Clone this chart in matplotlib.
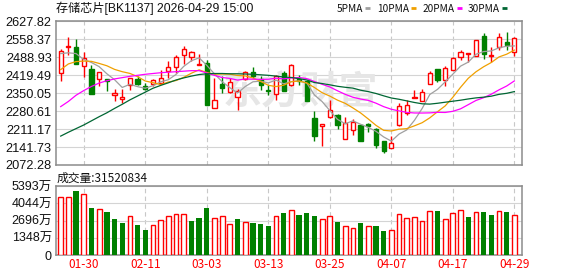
import numpy as np
import matplotlib
matplotlib.use('Agg')
import matplotlib.pyplot as plt
from matplotlib.lines import Line2D

plt.rcParams['font.family'] = ['Liberation Sans', 'Noto Sans CJK SC']

title = '存储芯片[BK1137] 2026-04-29 15:00'
volume_title = '成交量:31520834'

opens = [2427.9, 2527.3, 2528.5, 2456.2, 2443.4, 2404.8, 2404.8, 2344.1, 2326.3, 2382.7,
         2405.9, 2376.5, 2384.3, 2389.3, 2436.8, 2450.0, 2496.4, 2489.8, 2460.0, 2466.6,
         2292.6, 2386.6, 2353.4, 2334.0, 2405.9, 2431.8, 2404.8, 2363.4, 2347.9, 2427.9,
         2382.7, 2404.8, 2398.2, 2254.0, 2221.9, 2256.7, 2266.7, 2174.0, 2206.4, 2228.1,
         2230.8, 2213.0, 2166.2, 2138.0, 2226.9, 2273.3, 2331.3, 2318.5, 2386.6, 2443.4,
         2402.1, 2438.4, 2488.6, 2501.4, 2492.5, 2571.0, 2494.5, 2529.6, 2549.0, 2510.0]
highs = [2520.7, 2567.1, 2559.4, 2509.1, 2460.0, 2431.8, 2404.8, 2366.1, 2366.1, 2408.6,
         2415.2, 2389.3, 2405.9, 2440.7, 2473.2, 2496.4, 2531.2, 2514.2, 2501.4, 2479.4,
         2408.6, 2415.2, 2408.6, 2366.1, 2434.5, 2450.0, 2415.2, 2382.7, 2421.4, 2434.5,
         2462.7, 2421.4, 2402.1, 2282.2, 2231.9, 2322.4, 2269.5, 2257.8, 2250.1, 2230.8,
         2233.5, 2215.0, 2166.2, 2183.2, 2312.0, 2324.7, 2363.4, 2366.1, 2436.8, 2443.4,
         2453.8, 2488.6, 2515.7, 2505.3, 2556.7, 2582.6, 2530.0, 2581.0, 2587.6, 2568.0]
lows = [2398.2, 2498.7, 2463.9, 2412.5, 2347.9, 2378.8, 2359.5, 2318.5, 2312.0, 2363.4,
        2382.7, 2363.4, 2378.8, 2386.6, 2408.6, 2427.9, 2463.9, 2473.2, 2457.7, 2303.1,
        2292.6, 2350.6, 2350.6, 2286.1, 2402.1, 2408.6, 2363.4, 2341.7, 2324.7, 2357.2,
        2378.8, 2382.7, 2318.5, 2166.2, 2146.9, 2254.0, 2212.7, 2174.0, 2189.4, 2166.2,
        2201.0, 2137.0, 2118.7, 2138.0, 2221.9, 2266.7, 2331.3, 2318.5, 2386.6, 2392.0,
        2378.8, 2438.4, 2479.4, 2469.3, 2492.5, 2483.2, 2472.0, 2517.0, 2516.8, 2494.0]
closes = [2511.8, 2533.5, 2463.9, 2486.0, 2347.9, 2431.8, 2395.9, 2349.5, 2335.2, 2408.6,
          2386.6, 2364.9, 2399.7, 2408.6, 2450.0, 2488.6, 2520.7, 2509.1, 2463.9, 2305.4,
          2323.6, 2370.0, 2393.2, 2359.5, 2431.8, 2415.2, 2382.7, 2358.4, 2415.2, 2359.5,
          2457.7, 2395.9, 2318.5, 2183.2, 2231.9, 2283.8, 2225.8, 2234.6, 2238.5, 2166.2,
          2223.1, 2150.0, 2125.2, 2157.3, 2302.0, 2305.0, 2335.2, 2354.5, 2427.9, 2402.1,
          2447.3, 2486.0, 2509.1, 2505.3, 2554.4, 2499.5, 2498.0, 2566.0, 2536.0, 2562.0]

# volume in 万
volumes = [4510, 4510, 5026, 4768, 3674, 3570, 3361, 2814, 2501, 3023,
           2345, 1980, 2319, 2736, 3023, 3179, 3179, 2657, 2892, 3674,
           2866, 3072, 2397, 2814, 2579, 2501, 2423, 2267, 3023, 3283,
           3510, 3126, 3283, 3048, 2814, 3023, 2579, 2241, 2084, 2501,
           2241, 2267, 1876, 1954, 3179, 2866, 2947, 2657, 3439, 3439,
           2814, 3257, 3517, 2970, 3361, 3361, 3126, 3439, 3361, 3152]

ma5 = [2503, 2506, 2503, 2480, 2468.6, 2452.6, 2425.1, 2402.2, 2372.1, 2384.2,
       2375.2, 2369.0, 2379.0, 2393.7, 2402.0, 2422.4, 2453.5, 2475.4, 2486.5, 2457.5,
       2424.5, 2394.4, 2371.2, 2350.3, 2375.6, 2393.9, 2396.5, 2389.5, 2400.7, 2386.2,
       2394.7, 2397.3, 2389.4, 2343.0, 2317.4, 2282.7, 2248.6, 2231.9, 2242.9, 2229.8,
       2217.6, 2202.6, 2180.8, 2164.5, 2191.9, 2207.9, 2244.8, 2290.6, 2344.8, 2364.6,
       2393.4, 2423.6, 2454.5, 2470.0, 2500.4, 2510.8, 2513.3, 2525.4, 2531.4, 2532.6]
ma10 = [2441, 2463, 2472, 2474, 2473, 2465, 2456, 2442, 2433, 2426.4,
        2413.9, 2397.0, 2390.6, 2382.9, 2393.1, 2398.8, 2411.2, 2427.2, 2440.1, 2429.8,
        2423.4, 2424.0, 2423.3, 2418.4, 2416.6, 2409.2, 2395.4, 2380.4, 2375.5, 2380.9,
        2394.3, 2396.9, 2389.4, 2371.8, 2351.8, 2338.7, 2323.0, 2310.6, 2292.9, 2273.6,
        2250.2, 2225.6, 2206.3, 2203.7, 2210.8, 2212.8, 2223.7, 2235.7, 2254.6, 2278.2,
        2300.7, 2334.2, 2372.6, 2407.4, 2432.5, 2452.1, 2468.6, 2490.0, 2500.7, 2516.5]
ma20 = [2298, 2318, 2342, 2360, 2376, 2389, 2398, 2405, 2410, 2415,
        2419, 2423, 2426, 2429, 2431, 2433, 2435, 2437, 2437, 2428.1,
        2418.7, 2410.5, 2407.0, 2400.6, 2404.8, 2404.0, 2403.3, 2403.8, 2407.8, 2405.3,
        2408.9, 2410.4, 2406.4, 2395.1, 2384.2, 2374.0, 2359.2, 2345.5, 2334.2, 2327.3,
        2322.2, 2311.3, 2297.9, 2287.8, 2281.3, 2275.7, 2273.4, 2273.2, 2273.8, 2275.9,
        2275.4, 2279.9, 2289.4, 2305.5, 2321.7, 2332.5, 2346.1, 2362.8, 2377.7, 2397.4]
ma30 = [2184, 2199, 2213, 2227, 2243, 2259, 2274, 2291, 2307, 2324,
        2339, 2354, 2369, 2380, 2390, 2401, 2409, 2416, 2422, 2425,
        2426, 2426, 2425, 2425, 2424, 2423, 2421, 2419, 2416, 2412.4,
        2410.6, 2406.0, 2401.1, 2391.0, 2387.2, 2382.2, 2376.6, 2372.7, 2369.5, 2361.4,
        2356.0, 2348.8, 2339.7, 2331.3, 2326.4, 2320.2, 2314.0, 2308.9, 2307.7, 2310.9,
        2315.0, 2318.9, 2322.8, 2327.6, 2331.7, 2334.5, 2338.4, 2345.4, 2349.4, 2356.1]

ma_names = ['5PMA', '10PMA', '20PMA', '30PMA']
ma_colors = ['#a0a0a0', '#f0a000', '#ff00ff', '#006633']

price_ticks = [2072.28, 2141.73, 2211.17, 2280.61, 2350.05, 2419.49, 2488.93, 2558.37, 2627.82]
vol_ticks = [0, 1348, 2696, 4044, 5393]
vol_tick_labels = ['0', '1348万', '2696万', '4044万', '5393万']
date_labels = ['01-30', '02-11', '03-03', '03-13', '03-25', '04-07', '04-17', '04-29']
date_index = [3, 11, 19, 27, 35, 43, 51, 59]

RED = '#ff0000'
GREEN = '#008000'
GRID = '#d4d4d4'
FRAME = '#8c8c8c'

W, H = 578, 276
fig = plt.figure(figsize=(W / 100, H / 100), dpi=100)


def px(x0, y0, x1, y1):
    return [x0 / W, 1 - y1 / H, (x1 - x0) / W, (y1 - y0) / H]


ax = fig.add_axes(px(56, 21.3, 522.3, 165))
axv = fig.add_axes(px(56, 186, 522.3, 255))

o = np.array(opens)
h = np.array(highs)
l = np.array(lows)
c = np.array(closes)
v = np.array(volumes)
x = np.arange(len(c))
up = c >= o
lo = np.minimum(o, c)
hi = np.maximum(o, c)
body = np.maximum(hi - lo, 0.8)

# candles
ax.vlines(x[up], hi[up], h[up], color=RED, lw=1.0, zorder=3)
ax.vlines(x[up], l[up], lo[up], color=RED, lw=1.0, zorder=3)
ax.vlines(x[~up], l[~up], h[~up], color=GREEN, lw=1.0, zorder=3)
ax.bar(x[up], body[up], bottom=lo[up], width=0.55, facecolor='white',
       edgecolor=RED, linewidth=1.0, zorder=4)
ax.bar(x[~up], body[~up], bottom=lo[~up], width=0.55, facecolor=GREEN,
       edgecolor=GREEN, linewidth=1.0, zorder=4)

for ma, col in zip([ma5, ma10, ma20, ma30], ma_colors):
    ax.plot(x, ma, color=col, lw=0.9, zorder=5)

ax.text(0.525, 0.50, '东方财富', transform=ax.transAxes, fontsize=28,
        fontweight='bold', color='#e6e6e6', ha='center', va='center',
        family=['Noto Sans CJK SC'], zorder=1)

# volume
prev = np.concatenate([[c[0] - 1], c[:-1]])
vup = c >= prev
axv.bar(x[vup], v[vup], width=0.62, facecolor='white', edgecolor=RED,
        linewidth=1.0, zorder=3)
axv.bar(x[~vup], v[~vup], width=0.7, facecolor=GREEN, edgecolor=GREEN,
        linewidth=0, zorder=3)

for a in (ax, axv):
    a.set_xlim(-0.61, 60.03)
    a.set_xticks(date_index)
    a.set_axisbelow(True)
    a.grid(axis='y', color=GRID, lw=0.8)
    a.grid(axis='x', color='#c8c8c8', lw=0.8, linestyle=(0, (4, 3)))
    a.tick_params(length=0)
    for s in a.spines.values():
        s.set_color(FRAME)
        s.set_linewidth(1.1)

ax.set_ylim(price_ticks[0], price_ticks[-1])
ax.set_yticks(price_ticks)
ax.set_yticklabels(['%.2f' % t for t in price_ticks], fontsize=9.2, color='#111111')
ax.tick_params(axis='y', pad=3)
ax.set_xticklabels([])

axv.set_ylim(0, vol_ticks[-1])
axv.set_yticks(vol_ticks)
axv.set_yticklabels(vol_tick_labels, fontsize=9, color='#111111')
axv.tick_params(axis='y', pad=3)
axv.set_xticklabels(date_labels, fontsize=8.5, color=RED,
                    family=['Noto Sans CJK SC'])
axv.tick_params(axis='x', pad=2.5)

fig.text(56 / W, 1 - 8.5 / H, title, fontsize=8.7, va='center', ha='left',
         color='#111111')
fig.text(57 / W, 1 - 178 / H, volume_title, fontsize=8.5, va='center',
         ha='left', color='#111111', family=['Noto Sans CJK SC'])

legend_end = [362.7, 409, 455, 500]
for name, col, xe in zip(ma_names, ma_colors, legend_end):
    fig.text(xe / W, 1 - 8.5 / H, name, fontsize=7.3, va='center', ha='right',
             color='#111111', family=['Noto Sans CJK SC'])
    fig.add_artist(Line2D([(xe + 2) / W, (xe + 7) / W], [1 - 8 / H, 1 - 8 / H],
                          color=col, lw=2, solid_capstyle='butt'))

fig.savefig('out.png', dpi=100)
